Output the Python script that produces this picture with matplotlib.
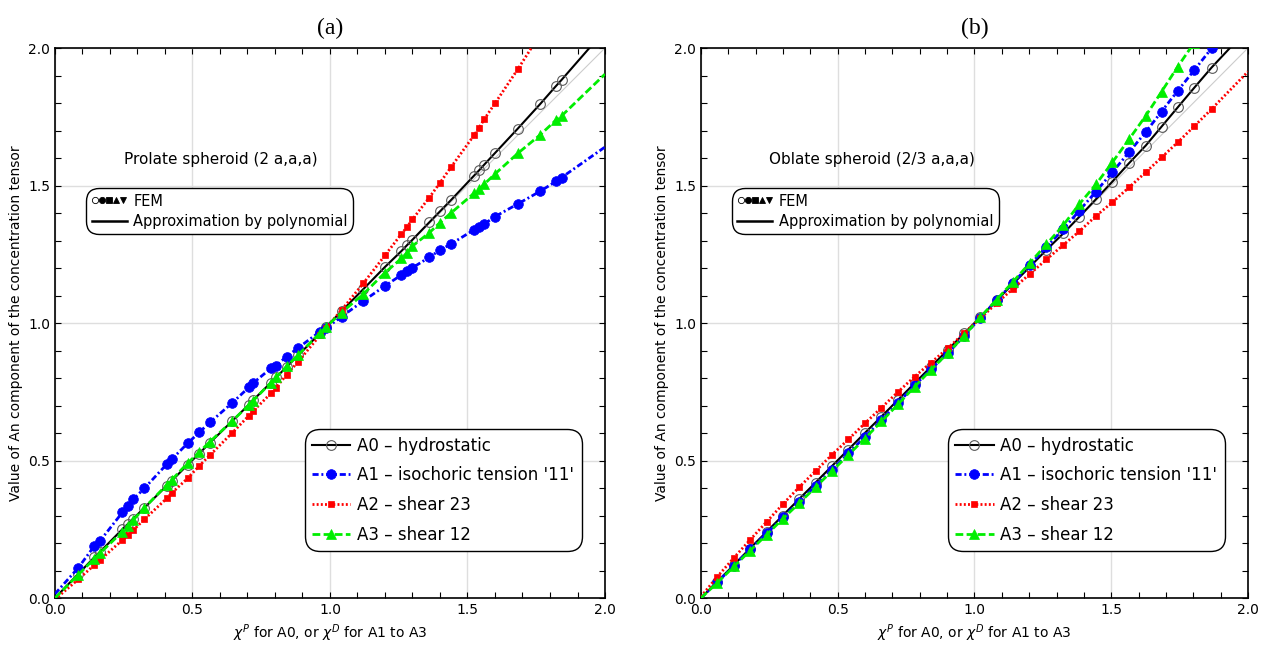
import numpy as np
import matplotlib.pyplot as plt
from matplotlib.lines import Line2D
from matplotlib.legend_handler import HandlerTuple

# FEM points, prolate spheroid (2 a,a,a)
chi_prolate = [0.085, 0.143, 0.164, 0.245, 0.264, 0.285, 0.325, 0.406, 0.424, 0.482,
               0.524, 0.564, 0.645, 0.705, 0.721, 0.785, 0.804, 0.842, 0.885, 0.964,
               0.985, 1.042, 1.121, 1.200, 1.260, 1.280, 1.300, 1.361, 1.400, 1.441,
               1.524, 1.542, 1.561, 1.600, 1.683, 1.764, 1.822, 1.842]
a0_prolate = [0.088, 0.148, 0.168, 0.250, 0.268, 0.289, 0.328, 0.408, 0.426, 0.484,
              0.525, 0.565, 0.644, 0.703, 0.720, 0.783, 0.802, 0.840, 0.883, 0.963,
              0.985, 1.043, 1.123, 1.204, 1.262, 1.283, 1.303, 1.366, 1.406, 1.448,
              1.536, 1.555, 1.576, 1.618, 1.707, 1.796, 1.862, 1.884]
a1_prolate = [0.110, 0.189, 0.208, 0.311, 0.335, 0.359, 0.399, 0.486, 0.504, 0.562,
              0.602, 0.639, 0.710, 0.766, 0.782, 0.835, 0.845, 0.878, 0.910, 0.969,
              0.981, 1.023, 1.080, 1.135, 1.175, 1.190, 1.201, 1.239, 1.265, 1.288,
              1.339, 1.348, 1.360, 1.387, 1.433, 1.479, 1.515, 1.529]
a2_prolate = [0.068, 0.120, 0.138, 0.211, 0.229, 0.247, 0.286, 0.362, 0.381, 0.435,
              0.480, 0.520, 0.601, 0.663, 0.680, 0.744, 0.765, 0.812, 0.860, 0.956,
              0.981, 1.047, 1.144, 1.246, 1.324, 1.349, 1.377, 1.456, 1.510, 1.568,
              1.683, 1.710, 1.741, 1.799, 1.923, 2.050, 2.140, 2.170]
a3_prolate = [0.085, 0.143, 0.163, 0.241, 0.262, 0.284, 0.328, 0.411, 0.429, 0.490,
              0.530, 0.569, 0.644, 0.702, 0.718, 0.783, 0.802, 0.842, 0.885, 0.964,
              0.985, 1.038, 1.105, 1.183, 1.235, 1.255, 1.280, 1.328, 1.365, 1.401,
              1.472, 1.486, 1.505, 1.542, 1.617, 1.684, 1.738, 1.753]
# polynomial values at chi = 0 and chi = 2
ends_prolate = [[0.0, 2.065], [0.015, 1.640], [-0.005, 2.400], [0.0, 1.905]]

# FEM points, oblate spheroid (2/3 a,a,a)
chi_oblate = [0.060, 0.121, 0.179, 0.240, 0.299, 0.359, 0.419, 0.478, 0.539, 0.599,
              0.660, 0.721, 0.781, 0.841, 0.902, 0.962, 1.021, 1.081, 1.141, 1.202,
              1.263, 1.325, 1.383, 1.444, 1.504, 1.565, 1.626, 1.684, 1.743, 1.804,
              1.867]
a0_oblate = [0.060, 0.121, 0.180, 0.241, 0.300, 0.360, 0.420, 0.479, 0.540, 0.600,
             0.660, 0.721, 0.781, 0.841, 0.902, 0.962, 1.021, 1.082, 1.143, 1.204,
             1.266, 1.326, 1.386, 1.450, 1.514, 1.581, 1.645, 1.714, 1.784, 1.856,
             1.929]
a1_oblate = [0.058, 0.118, 0.177, 0.235, 0.293, 0.350, 0.408, 0.466, 0.526, 0.586,
             0.647, 0.710, 0.773, 0.832, 0.890, 0.952, 1.020, 1.082, 1.146, 1.211,
             1.276, 1.342, 1.408, 1.478, 1.548, 1.621, 1.694, 1.769, 1.844, 1.920,
             1.999]
a2_oblate = [0.078, 0.147, 0.211, 0.277, 0.341, 0.403, 0.462, 0.520, 0.577, 0.635,
             0.692, 0.750, 0.805, 0.856, 0.908, 0.963, 1.017, 1.072, 1.125, 1.178,
             1.231, 1.284, 1.333, 1.389, 1.439, 1.493, 1.548, 1.602, 1.657, 1.716,
             1.778]
a3_oblate = [0.056, 0.115, 0.172, 0.230, 0.288, 0.345, 0.403, 0.461, 0.520, 0.580,
             0.642, 0.705, 0.768, 0.830, 0.890, 0.953, 1.021, 1.085, 1.150, 1.218,
             1.286, 1.356, 1.432, 1.504, 1.584, 1.668, 1.753, 1.841, 1.932, 2.020,
             2.110]
ends_oblate = [[0.0, 2.070], [0.0, 2.170], [0.005, 1.914], [0.0, 2.300]]

labels = ["A0 \u2013 hydrostatic", "A1 \u2013 isochoric tension '11'",
          "A2 \u2013 shear 23", "A3 \u2013 shear 12"]
colors = ["black", "blue", "red", "#00ee00"]
dashes = [None, (2.2, 1.0, 0.7, 1.0), (0.7, 0.8), (2.8, 1.2)]
widths = [1.5, 2.0, 2.0, 2.0]
markers = ["o", "o", "s", "^"]
msizes = [7, 7, 5, 6.5]


def draw_panel(ax, chi, series, ends, title, note):
    ax.plot([0, 2], [0, 2], color="0.8", lw=0.8, zorder=1)
    for i, y in enumerate(series):
        xs = [0.0] + list(chi) + [2.0]
        ys = [ends[i][0]] + list(y) + [ends[i][1]]
        if i == 0:
            mkw = dict(mfc="none", mec="0.35", mew=0.8)
        else:
            mkw = dict(mfc=colors[i], mec=colors[i], mew=0.5)
        ln, = ax.plot(xs, ys, color=colors[i], lw=widths[i],
                      marker=markers[i], ms=msizes[i], markevery=slice(1, -1),
                      label=labels[i], zorder=3 + i, **mkw)
        if dashes[i] is not None:
            ln.set_dashes(dashes[i])

    ax.set_xlim(0, 2)
    ax.set_ylim(0, 2)
    ax.set_xticks(np.arange(0, 2.01, 0.5))
    ax.set_yticks(np.arange(0, 2.01, 0.5))
    ax.set_xticks(np.arange(0, 2.01, 0.1), minor=True)
    ax.set_yticks(np.arange(0, 2.01, 0.1), minor=True)
    ax.tick_params(which="both", direction="in", top=True, right=True,
                   labelsize=10, length=4, width=0.8)
    ax.grid(True, which="major", color="0.87", lw=1)
    ax.set_axisbelow(True)
    for sp in ax.spines.values():
        sp.set_linewidth(1.2)

    ax.set_title(title, family="Liberation Serif", fontsize=17, pad=10)
    ax.set_xlabel(r"$\chi^P$ for A0, or $\chi^D$ for A1 to A3", fontsize=10)
    ax.set_ylabel("Value of An component of the concentration tensor", fontsize=10)
    ax.text(0.25, 1.595, note, fontsize=11, va="center")

    # legend of curves
    leg = ax.legend(loc="lower right", bbox_to_anchor=(0.953, 0.09),
                    fontsize=12, handlelength=2.3, labelspacing=0.7,
                    borderpad=0.3, handletextpad=0.4, fancybox=True,
                    framealpha=1, edgecolor="black", borderaxespad=0)
    leg.get_frame().set_boxstyle("round,pad=0.15,rounding_size=0.9")
    leg.get_frame().set_linewidth(1.0)
    ax.add_artist(leg)

    # legend of symbols
    sym = tuple(Line2D([], [], ls="none", marker=m, color="black", ms=4.5,
                       mfc=fc, mec="black", mew=0.6)
                for m, fc in zip(["o", "o", "s", "^", "v"],
                                 ["none", "black", "black", "black", "black"]))
    poly = Line2D([], [], color="black", lw=1.8)
    leg2 = ax.legend([sym, poly], ["FEM", "Approximation by polynomial"],
                     handler_map={tuple: HandlerTuple(ndivide=None, pad=0.0)},
                     loc="upper left", bbox_to_anchor=(0.06, 0.742),
                     fontsize=10.5, handlelength=2.4, labelspacing=0.35,
                     borderpad=0.25, handletextpad=0.45, fancybox=True,
                     framealpha=1, edgecolor="black", borderaxespad=0)
    leg2.get_frame().set_boxstyle("round,pad=0.15,rounding_size=0.9")
    leg2.get_frame().set_linewidth(1.0)


fig = plt.figure(figsize=(12.78, 6.54), dpi=100)
ax_a = fig.add_axes([0.043, 0.0856, 0.4304, 0.841])
ax_b = fig.add_axes([0.5485, 0.0856, 0.428, 0.841])

draw_panel(ax_a, chi_prolate, [a0_prolate, a1_prolate, a2_prolate, a3_prolate],
           ends_prolate, "(a)", "Prolate spheroid (2 a,a,a)")
draw_panel(ax_b, chi_oblate, [a0_oblate, a1_oblate, a2_oblate, a3_oblate],
           ends_oblate, "(b)", "Oblate spheroid (2/3 a,a,a)")

fig.savefig("out.png", dpi=100)
